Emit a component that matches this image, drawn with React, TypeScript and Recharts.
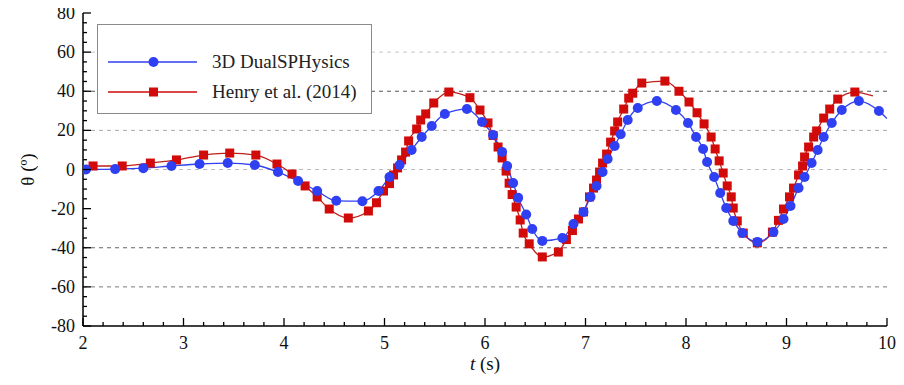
import React from "react";
import { LineChart, Line, XAxis, YAxis, ReferenceLine } from "recharts";

// ── Series: roll angle θ (deg) vs time t (s), as [t, θ] pairs ──────────────
const DUAL_POINTS: [number, number][] = [
  [2.03, 0], [2.32, 0.2], [2.6, 0.7], [2.88, 1.8], [3.16, 2.8], [3.44, 3.3],
  [3.71, 2.3], [3.94, -1.3], [4.14, -5.9], [4.33, -11], [4.52, -16], [4.78, -16.2],
  [4.94, -11], [5.05, -3.8], [5.15, 2.3], [5.27, 10], [5.37, 16.6], [5.47, 22.2],
  [5.6, 28.4], [5.82, 30.9], [5.97, 24.3], [6.08, 17.6], [6.17, 9], [6.22, 1.8],
  [6.28, -6.9], [6.33, -14.5], [6.41, -23], [6.47, -30.4], [6.57, -36.5], [6.77, -35],
  [6.88, -27.9], [6.98, -21.7], [7.05, -14], [7.11, -8.4], [7.17, -1.3], [7.22, 5.4],
  [7.29, 12], [7.35, 18], [7.42, 25.3], [7.52, 31.4], [7.71, 35], [7.9, 30.4],
  [8.02, 23.8], [8.1, 16.6], [8.17, 10.5], [8.21, 3.8], [8.28, -3.8], [8.34, -12],
  [8.4, -19.7], [8.47, -26.3], [8.56, -32.5], [8.71, -37], [8.87, -32], [8.97, -25.3],
  [9.04, -18.7], [9.12, -9.5], [9.18, -3.8], [9.25, 3.3], [9.31, 10], [9.37, 16.6],
  [9.45, 23.8], [9.55, 30.4], [9.72, 35], [9.92, 29.9],
];
// curve continues past the last marker
const DUAL_TAIL: [number, number][] = [[10, 26]];

const HENRY_POINTS: [number, number][] = [
  [2.1, 1.8], [2.39, 1.8], [2.67, 3.3], [2.93, 4.9], [3.2, 7.4], [3.46, 8.4],
  [3.72, 7.4], [3.93, 2.8], [4.08, -2.3], [4.21, -8.4], [4.33, -14], [4.45, -20.2],
  [4.64, -24.8], [4.84, -21.2], [4.92, -17], [4.99, -11], [5.05, -7.2], [5.09, -2.8],
  [5.13, 0.8], [5.17, 4.9], [5.21, 8.9], [5.24, 14.6], [5.32, 20.7], [5.36, 25.3],
  [5.41, 28.4], [5.49, 34], [5.64, 39.6], [5.85, 36.7], [5.95, 30.4], [6.03, 23.8],
  [6.08, 17.4], [6.13, 11.5], [6.17, 5.9], [6.21, -0.8], [6.24, -7], [6.27, -12.8],
  [6.31, -19.2], [6.35, -25.8], [6.38, -32.5], [6.44, -38], [6.57, -44.7], [6.73, -42.2],
  [6.81, -35.8], [6.87, -31.2], [6.93, -25.3], [6.98, -21.7], [7.04, -14], [7.08, -9.5],
  [7.11, -5.4], [7.14, -1.3], [7.17, 3.3], [7.21, 7.9], [7.25, 14], [7.29, 19.7],
  [7.32, 24.3], [7.38, 30.9], [7.43, 36.5], [7.47, 39], [7.56, 44.2], [7.79, 45.2],
  [7.93, 40], [8.03, 34.5], [8.11, 29], [8.18, 23.3], [8.25, 16.6], [8.29, 10.5],
  [8.33, 4.4], [8.37, -1.8], [8.41, -8.4], [8.45, -14], [8.47, -19.7], [8.51, -26.3],
  [8.57, -32.5], [8.71, -37.5], [8.86, -32], [8.92, -26], [8.97, -20.2], [9.03, -14],
  [9.07, -9.5], [9.12, -2.8], [9.16, 1.8], [9.18, 6.4], [9.22, 11.5], [9.27, 16.6],
  [9.3, 19.7], [9.37, 26.3], [9.43, 30.9], [9.51, 36], [9.68, 39.6],
];
const HENRY_LEAD: [number, number][] = [[2.0, 1.2]];
const HENRY_TAIL: [number, number][] = [[9.86, 37.6]];

const X_LABELS = [2, 3, 4, 5, 6, 7, 8, 9, 10];
const Y_LABELS = [-80, -60, -40, -20, 0, 20, 40, 60, 80];

// dashed horizontal guides: [value, colour]
const GUIDES: [number, string][] = [
  [60, "#c8c8c8"], [40, "#555"], [20, "#aaa"], [0, "#bbb"], [-40, "#666"], [-60, "#777"],
];

const BLUE = "#2f3ff2";
const RED = "#d10a0a";
const FONT = "'Liberation Serif', serif";

// chart frame (the chart is shifted over the body margin, so these are page pixels)
const W = 904;
const H = 385;
const PLOT_LEFT = 83;
const PLOT_RIGHT = 887;
const PLOT_TOP = 13;
const PLOT_BOTTOM = 326;

const xTicks: number[] = [];
for (let i = 0; i <= 40; i++) xTicks.push(Math.round((2 + i * 0.2) * 10) / 10);
const yTicks: number[] = [];
for (let v = -80; v <= 80; v += 5) yTicks.push(v);

const toSeries = (pts: [number, number][], marker: boolean) =>
  pts.map(([t, theta]) => ({ t, theta, marker }));

const dualData = [...toSeries(DUAL_POINTS, true), ...toSeries(DUAL_TAIL, false)];
const henryData = [
  ...toSeries(HENRY_LEAD, false),
  ...toSeries(HENRY_POINTS, true),
  ...toSeries(HENRY_TAIL, false),
];

const isMajorX = (v: number) => X_LABELS.some((l) => Math.abs(l - v) < 1e-6);
const isMajorY = (v: number) => Y_LABELS.includes(v);

const tickText: React.CSSProperties = { fontFamily: FONT, fontSize: "18px", fill: "#111" };
const titleText: React.CSSProperties = { fontFamily: FONT, fontSize: "19px", fill: "#111" };

function BottomTick(props: any) {
  const { x, payload } = props;
  const major = isMajorX(payload.value);
  return (
    <g>
      <line x1={x} x2={x} y1={PLOT_BOTTOM} y2={PLOT_BOTTOM - (major ? 8 : 4)} stroke="#000" strokeWidth={1.3} />
      {major && (
        <text x={x} y={PLOT_BOTTOM + 23} textAnchor="middle" style={tickText}>
          {payload.value}
        </text>
      )}
    </g>
  );
}

function TopTick(props: any) {
  const { x, payload } = props;
  const major = isMajorX(payload.value);
  return <line x1={x} x2={x} y1={PLOT_TOP} y2={PLOT_TOP + (major ? 8 : 4)} stroke="#000" strokeWidth={1.3} />;
}

function LeftTick(props: any) {
  const { y, payload } = props;
  const major = isMajorY(payload.value);
  return (
    <g>
      <line x1={PLOT_LEFT} x2={PLOT_LEFT + (major ? 8 : 4)} y1={y} y2={y} stroke="#000" strokeWidth={1.3} />
      {major && (
        <text x={PLOT_LEFT - 8} y={y + 6} textAnchor="end" style={tickText}>
          {payload.value}
        </text>
      )}
    </g>
  );
}

function RightTick(props: any) {
  const { y, payload } = props;
  const major = isMajorY(payload.value);
  return <line x1={PLOT_RIGHT} x2={PLOT_RIGHT - (major ? 8 : 4)} y1={y} y2={y} stroke="#000" strokeWidth={1.3} />;
}

function XTitle() {
  return (
    <text x={(PLOT_LEFT + PLOT_RIGHT) / 2} y={PLOT_BOTTOM + 44} textAnchor="middle" style={titleText}>
      <tspan style={{ fontStyle: "italic" }}>t</tspan> (s)
    </text>
  );
}

function YTitle() {
  const cx = 27;
  const cy = (PLOT_TOP + PLOT_BOTTOM) / 2;
  return (
    <text x={cx} y={cy} dy="0.35em" transform={`rotate(-90 ${cx} ${cy})`} textAnchor="middle" style={titleText}>
      θ (º)
    </text>
  );
}

const circleDot = (props: any) => {
  const { cx, cy, payload, index } = props;
  if (!payload.marker) return <g key={`d${index}`} />;
  return <circle key={`d${index}`} cx={cx} cy={cy} r={5} fill={BLUE} />;
};

const squareDot = (props: any) => {
  const { cx, cy, payload, index } = props;
  if (!payload.marker) return <g key={`h${index}`} />;
  return <rect key={`h${index}`} x={cx - 4.5} y={cy - 4.5} width={9} height={9} fill={RED} />;
};

function LegendBox() {
  const row = (label: string, color: string, square: boolean) => (
    <div style={{ display: "flex", alignItems: "center", height: 30 }}>
      <svg width={104} height={14} style={{ flexShrink: 0 }}>
        <line x1={10} x2={99} y1={7} y2={7} stroke={color} strokeWidth={1.5} />
        {square ? <rect x={51} y={2.5} width={9} height={9} fill={color} /> : <circle cx={55.5} cy={7} r={5} fill={color} />}
      </svg>
      <span style={{ fontFamily: FONT, fontSize: 19, color: "#222", marginLeft: 10 }}>{label}</span>
    </div>
  );
  return (
    <div
      style={{
        position: "absolute",
        left: 97,
        top: 24,
        width: 275,
        height: 90,
        border: "1px solid #8a8a8a",
        background: "#fff",
        boxSizing: "border-box",
        paddingTop: 22,
      }}
    >
      {row("3D DualSPHysics", BLUE, false)}
      {row("Henry et al. (2014)", RED, true)}
    </div>
  );
}

export default function App() {
  return (
    <div style={{ position: "relative", width: W, height: H, margin: "-8px 0 0 -8px", fontFamily: FONT }}>
      <LineChart
        width={W}
        height={H}
        margin={{ top: PLOT_TOP, right: W - PLOT_RIGHT, left: 0, bottom: 0 }}
        style={{ fontFamily: FONT }}
      >
        <XAxis
          dataKey="t"
          type="number"
          domain={[2, 10]}
          ticks={xTicks}
          interval={0}
          height={H - PLOT_BOTTOM}
          tick={<BottomTick />}
          tickLine={false}
          axisLine={{ stroke: "#000", strokeWidth: 1.5 }}
          allowDataOverflow
        />
        <XAxis
          xAxisId="top"
          orientation="top"
          type="number"
          domain={[2, 10]}
          ticks={xTicks}
          interval={0}
          height={0}
          tick={<TopTick />}
          tickLine={false}
          axisLine={{ stroke: "#000", strokeWidth: 1.5 }}
          allowDataOverflow
        />
        <YAxis
          type="number"
          domain={[-80, 80]}
          ticks={yTicks}
          interval={0}
          width={PLOT_LEFT}
          tick={<LeftTick />}
          tickLine={false}
          axisLine={{ stroke: "#000", strokeWidth: 1.5 }}
          allowDataOverflow
        />
        <YAxis
          yAxisId="right"
          orientation="right"
          type="number"
          domain={[-80, 80]}
          ticks={yTicks}
          interval={0}
          width={0}
          tick={<RightTick />}
          tickLine={false}
          axisLine={{ stroke: "#000", strokeWidth: 1.5 }}
          allowDataOverflow
        />
        {GUIDES.map(([v, c]) => (
          <ReferenceLine key={v} y={v} stroke={c} strokeDasharray="4 4" strokeWidth={1} />
        ))}
        <Line
          data={henryData}
          dataKey="theta"
          type="monotone"
          stroke="#c0201a"
          strokeWidth={1.3}
          dot={squareDot}
          activeDot={false}
          isAnimationActive={false}
        />
        <Line
          data={dualData}
          dataKey="theta"
          type="monotone"
          stroke={BLUE}
          strokeWidth={1.3}
          dot={circleDot}
          activeDot={false}
          isAnimationActive={false}
        />
        <XTitle />
        <YTitle />
      </LineChart>
      <LegendBox />
    </div>
  );
}
